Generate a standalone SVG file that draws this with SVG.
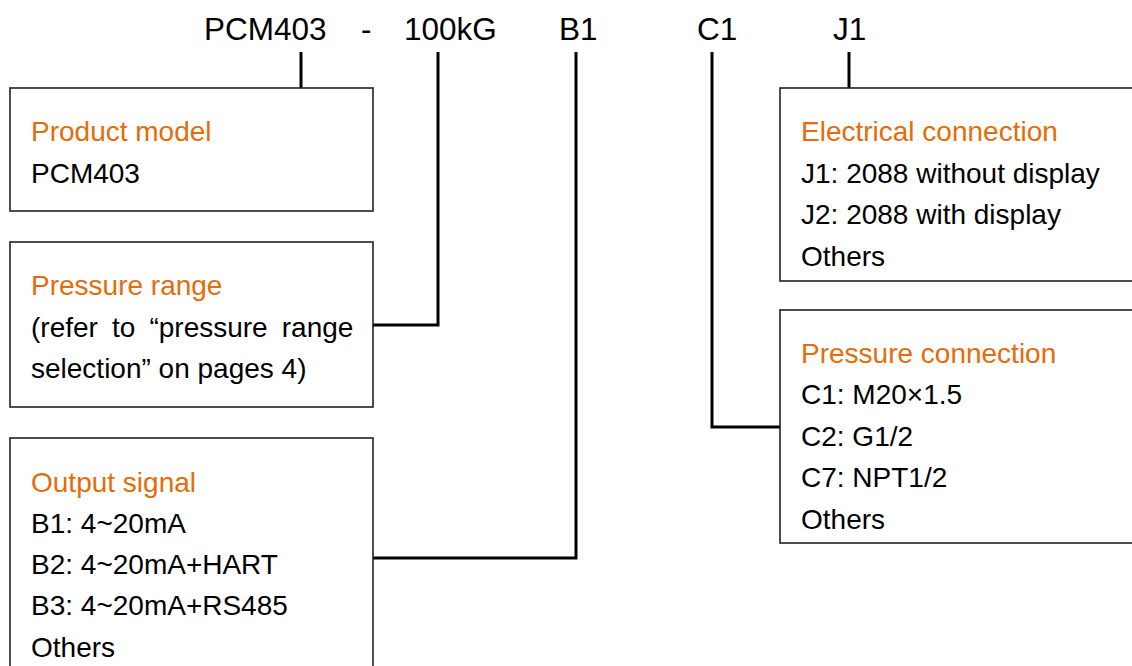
<svg xmlns="http://www.w3.org/2000/svg" width="1132" height="666" viewBox="0 0 1132 666">
<style>
.box{fill:#fff;stroke:#222;stroke-width:1.6}
.t{font-family:"Liberation Sans",Arial,sans-serif;font-size:28px;fill:#000}
.h{fill:#E46C0A}
.title{font-family:"Liberation Sans",Arial,sans-serif;font-size:31.5px;fill:#000}
.c{fill:none;stroke:#000;stroke-width:3}
</style>
<rect width="1132" height="666" fill="#fff"/>
<g id="code">
<text class="title" x="204" y="40">PCM403</text>
<text class="title" x="361" y="40">-</text>
<text class="title" x="404" y="40">100kG</text>
<text class="title" x="559" y="40">B1</text>
<text class="title" x="697" y="40">C1</text>
<text class="title" x="833" y="40">J1</text>
</g>
<g id="connectors">
<path class="c" d="M301,52V88"/>
<path class="c" d="M438,52V325H373"/>
<path class="c" d="M576,52V558H373"/>
<path class="c" d="M712,52V427H780"/>
<path class="c" d="M849,52V88"/>
</g>
<g id="product-model">
<rect class="box" x="10" y="88" width="363" height="123"/>
<text class="t h" x="31" y="141">Product model</text>
<text class="t" x="31" y="183">PCM403</text>
</g>
<g id="pressure-range">
<rect class="box" x="10" y="242" width="363" height="165"/>
<text class="t h" x="31" y="295">Pressure range</text>
<text class="t" x="31" y="337" word-spacing="6.3">(refer to “pressure range</text>
<text class="t" x="31" y="378">selection” on pages 4)</text>
</g>
<g id="output-signal">
<rect class="box" x="10" y="438" width="363" height="240"/>
<text class="t h" x="31" y="492">Output signal</text>
<text class="t" x="31" y="533">B1: 4~20mA</text>
<text class="t" x="31" y="574">B2: 4~20mA+HART</text>
<text class="t" x="31" y="615">B3: 4~20mA+RS485</text>
<text class="t" x="31" y="657">Others</text>
</g>
<g id="electrical-connection">
<rect class="box" x="780" y="88" width="360" height="193"/>
<text class="t h" x="801" y="141">Electrical connection</text>
<text class="t" x="801" y="183">J1: 2088 without display</text>
<text class="t" x="801" y="224">J2: 2088 with display</text>
<text class="t" x="801" y="266">Others</text>
</g>
<g id="pressure-connection">
<rect class="box" x="780" y="310" width="360" height="233"/>
<text class="t h" x="801" y="363">Pressure connection</text>
<text class="t" x="801" y="404">C1: M20×1.5</text>
<text class="t" x="801" y="446">C2: G1/2</text>
<text class="t" x="801" y="487">C7: NPT1/2</text>
<text class="t" x="801" y="529">Others</text>
</g>
</svg>
